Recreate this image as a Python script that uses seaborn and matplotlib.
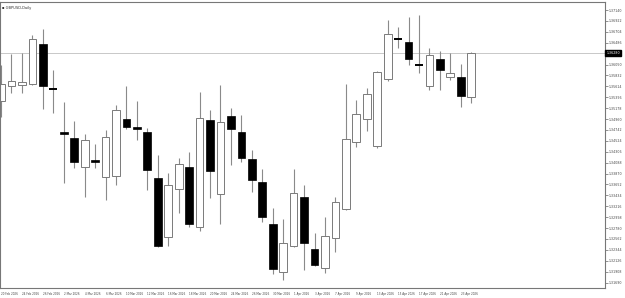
import numpy as np
import pandas as pd
import matplotlib
matplotlib.use("Agg")
import matplotlib.pyplot as plt
import seaborn as sns

symbol_title = "GBPUSD,Daily"

dates = ["20 Feb 2026", "23 Feb 2026", "24 Feb 2026", "25 Feb 2026", "26 Feb 2026", "27 Feb 2026",
         "2 Mar 2026", "3 Mar 2026", "4 Mar 2026", "5 Mar 2026", "6 Mar 2026",
         "9 Mar 2026", "10 Mar 2026", "11 Mar 2026", "12 Mar 2026", "13 Mar 2026",
         "16 Mar 2026", "17 Mar 2026", "18 Mar 2026", "19 Mar 2026", "20 Mar 2026",
         "23 Mar 2026", "24 Mar 2026", "25 Mar 2026", "26 Mar 2026", "27 Mar 2026",
         "30 Mar 2026", "31 Mar 2026", "1 Apr 2026", "2 Apr 2026", "3 Apr 2026",
         "6 Apr 2026", "7 Apr 2026", "8 Apr 2026", "9 Apr 2026", "10 Apr 2026",
         "13 Apr 2026", "14 Apr 2026", "15 Apr 2026", "16 Apr 2026", "17 Apr 2026",
         "20 Apr 2026", "21 Apr 2026", "22 Apr 2026", "23 Apr 2026", "24 Apr 2026"]

open_ = [1.3532, 1.3562, 1.3564, 1.3566, 1.3646, 1.3559, 1.3470, 1.3458, 1.3400, 1.3415,
         1.3380, 1.3382, 1.3496, 1.3480, 1.3470, 1.3378, 1.3260, 1.3356, 1.3400, 1.3280,
         1.3494, 1.3346, 1.3502, 1.3470, 1.3416, 1.3370, 1.3286, 1.3190, 1.3242, 1.3340,
         1.3236, 1.3198, 1.3258, 1.3316, 1.3450, 1.3496, 1.3442, 1.3576, 1.3659, 1.3650,
         1.3607, 1.3562, 1.3616, 1.3580, 1.3580, 1.3540]
high = [1.3604, 1.3626, 1.3628, 1.3664, 1.3676, 1.3594, 1.3530, 1.3492, 1.3466, 1.3446,
        1.3474, 1.3524, 1.3562, 1.3532, 1.3478, 1.3424, 1.3388, 1.3418, 1.3430, 1.3550,
        1.3514, 1.3564, 1.3518, 1.3504, 1.3434, 1.3396, 1.3318, 1.3296, 1.3396, 1.3364,
        1.3268, 1.3300, 1.3340, 1.3566, 1.3534, 1.3558, 1.3592, 1.3694, 1.3680, 1.3700,
        1.3704, 1.3638, 1.3632, 1.3628, 1.3606, 1.3630]
low = [1.3500, 1.3548, 1.3548, 1.3564, 1.3516, 1.3508, 1.3368, 1.3398, 1.3340, 1.3398,
       1.3334, 1.3364, 1.3476, 1.3454, 1.3354, 1.3240, 1.3242, 1.3308, 1.3280, 1.3272,
       1.3338, 1.3286, 1.3404, 1.3410, 1.3350, 1.3290, 1.3186, 1.3174, 1.3240, 1.3194,
       1.3202, 1.3188, 1.3230, 1.3314, 1.3440, 1.3472, 1.3438, 1.3572, 1.3638, 1.3604,
       1.3588, 1.3554, 1.3554, 1.3574, 1.3520, 1.3528]
close = [1.3566, 1.3572, 1.3570, 1.3656, 1.3562, 1.3557, 1.3466, 1.3410, 1.3454, 1.3411,
         1.3460, 1.3514, 1.3480, 1.3476, 1.3394, 1.3242, 1.3364, 1.3406, 1.3286, 1.3498,
         1.3392, 1.3490, 1.3476, 1.3418, 1.3374, 1.3300, 1.3196, 1.3248, 1.3348, 1.3248,
         1.3204, 1.3262, 1.3330, 1.3456, 1.3506, 1.3546, 1.3590, 1.3666, 1.3657, 1.3616,
         1.3605, 1.3624, 1.3594, 1.3588, 1.3542, 1.3628]

price_top_tick = 1.37140
price_tick_step = 0.00218
y_limits = (1.3158, 1.3730)

df = pd.DataFrame({"date": dates, "open": open_, "high": high, "low": low, "close": close})
df["idx"] = np.arange(len(df))
df["bull"] = df["close"] >= df["open"]

sns.set_theme(style="white")
plt.rcParams['font.family'] = ['DejaVu Sans']

fig = plt.figure(figsize=(6.25, 2.98), dpi=100)
ax = fig.add_axes([0.0, 10 / 298, 605 / 625, 286 / 298])

last = df["close"].iloc[-1]
sns.lineplot(x=[-0.1, 57.8], y=[last, last], ax=ax, color="#c8c8c8", lw=0.7, zorder=0)

# wicks
ax.vlines(df["idx"], df["low"], df["high"], color="#8a8a8a", lw=0.8, zorder=1)

# bodies
bw = 0.74
px = (y_limits[1] - y_limits[0]) / 286.0
for _, r in df.iterrows():
    lo = min(r["open"], r["close"])
    h = abs(r["close"] - r["open"])
    if r["bull"]:
        if h < 1.5 * px:
            ax.hlines(r["close"], r["idx"] - bw / 2, r["idx"] + bw / 2, color="#555555", lw=0.9, zorder=2)
        else:
            ax.bar(r["idx"], h, bottom=lo, width=bw, color="white", edgecolor="#7a7a7a", lw=0.7, zorder=2)
    else:
        if h < 1.5 * px:
            ax.hlines(r["close"], r["idx"] - bw / 2, r["idx"] + bw / 2, color="black", lw=1.4, zorder=2)
        else:
            ax.bar(r["idx"], h, bottom=lo, width=bw, color="black", edgecolor="black", lw=0.5, zorder=2)

ax.set_xlim(-0.1, 57.8)
ax.set_ylim(*y_limits)

# y ticks on right (label near current price is hidden by the price marker)
yt = [price_top_tick - k * price_tick_step for k in range(26)]
ax.yaxis.tick_right()
ax.set_yticks(yt)
ax.set_yticklabels(["" if abs(v - last) < 6 * px else f"{v:.5f}" for v in yt],
                   fontsize=2.3, color="#444444")
ax.tick_params(axis="y", length=2, width=0.5, pad=1, colors="#666666", labelcolor="#444444")

# x ticks
xt = list(range(0, len(df) - 1, 2))
ax.set_xticks(xt)
ax.set_xticklabels([dates[i] for i in xt], fontsize=1.95, ha="left", color="#444444")
ax.tick_params(axis="x", length=2, width=0.5, pad=1.2, colors="#666666", labelcolor="#444444")

for s in ax.spines.values():
    s.set_color("#777777")
    s.set_linewidth(0.8)

ax.text(1.0 + 0.002, last, f"{last:.5f}", transform=ax.get_yaxis_transform(), fontsize=2.3,
        color="white", va="center", ha="left",
        bbox=dict(boxstyle="square,pad=0.25", fc="black", ec="black"))

ax.text(0.004, 0.985, "\u25aa " + symbol_title, transform=ax.transAxes, fontsize=2.6,
        color="#333333", va="top", ha="left")

fig.savefig("out.png", dpi=100)
